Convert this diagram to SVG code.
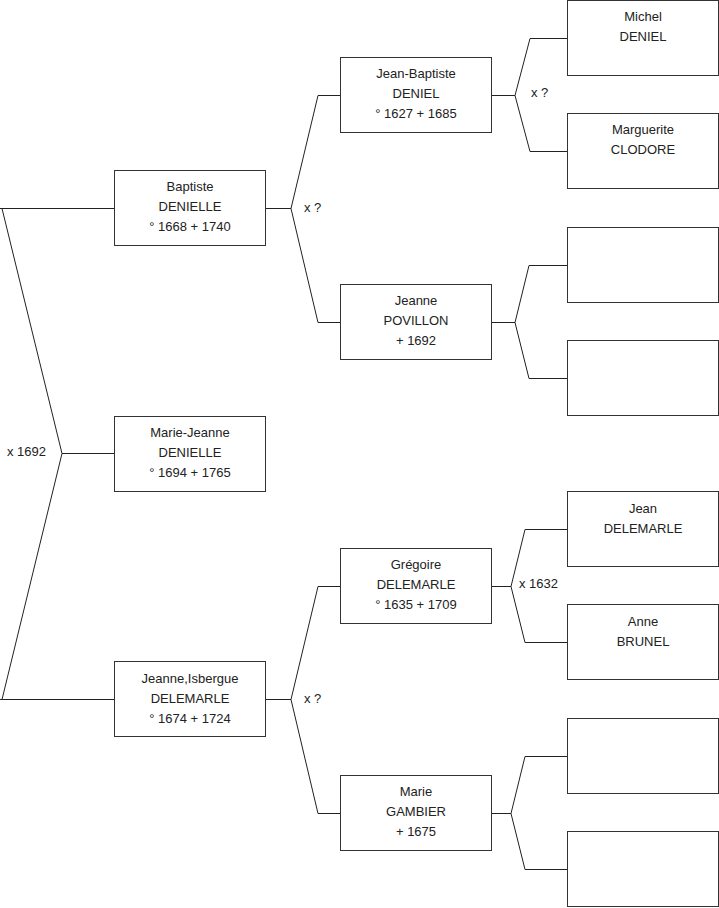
<svg xmlns="http://www.w3.org/2000/svg" width="719" height="908" viewBox="0 0 719 908">
<style>
.box{fill:#fff;stroke:#333;stroke-width:1}
.t{font-family:"Liberation Sans",Arial,sans-serif;font-size:13px;fill:#222;text-anchor:middle}
.lbl{font-family:"Liberation Sans",Arial,sans-serif;font-size:13px;fill:#222}
.c{fill:none;stroke:#222;stroke-width:1}
</style>
<rect width="719" height="908" fill="#fff"/>
<g id="connectors">
<path class="c" d="M0,208.5 H114.5 M2,208.5 L62,453.5 L2,699.5 M0,699.5 H114.5 M62,453.5 H114.5"/>
<path class="c" d="M265.5,208.5 H291 L318,95.5 H340.5 M291,208.5 L318,322.5 H340.5"/>
<path class="c" d="M265.5,699.5 H291 L318,586.5 H340.5 M291,699.5 L318,813.5 H340.5"/>
<path class="c" d="M491.5,95.5 H515 L530,38.5 H567.5 M515,95.5 L530,151.5 H567.5"/>
<path class="c" d="M491.5,322.5 H515 L529,265.5 H567.5 M515,322.5 L529,378.5 H567.5"/>
<path class="c" d="M491.5,586.5 H511 L525,529.5 H567.5 M511,586.5 L525,642.5 H567.5"/>
<path class="c" d="M491.5,813.5 H511 L525,756.5 H567.5 M511,813.5 L525,869.5 H567.5"/>
<text class="lbl" x="7" y="456">x 1692</text>
<text class="lbl" x="304" y="212">x ?</text>
<text class="lbl" x="304" y="703">x ?</text>
<text class="lbl" x="531" y="97">x ?</text>
<text class="lbl" x="519" y="588">x 1632</text>
</g>
<g id="baptiste"><rect class="box" x="114.5" y="170.5" width="151" height="75"/>
<text class="t" x="190" y="191">Baptiste</text><text class="t" x="190" y="211">DENIELLE</text><text class="t" x="190" y="231">° 1668 + 1740</text></g>
<g id="marie-jeanne"><rect class="box" x="114.5" y="416.5" width="151" height="75"/>
<text class="t" x="190" y="437">Marie-Jeanne</text><text class="t" x="190" y="457">DENIELLE</text><text class="t" x="190" y="477">° 1694 + 1765</text></g>
<g id="jeanne-isbergue"><rect class="box" x="114.5" y="661.5" width="151" height="75"/>
<text class="t" x="190" y="683">Jeanne,Isbergue</text><text class="t" x="190" y="703">DELEMARLE</text><text class="t" x="190" y="723">° 1674 + 1724</text></g>
<g id="jean-baptiste"><rect class="box" x="340.5" y="57.5" width="151" height="75"/>
<text class="t" x="416" y="78">Jean-Baptiste</text><text class="t" x="416" y="98">DENIEL</text><text class="t" x="416" y="118">° 1627 + 1685</text></g>
<g id="jeanne-povillon"><rect class="box" x="340.5" y="284.5" width="151" height="75"/>
<text class="t" x="416" y="305">Jeanne</text><text class="t" x="416" y="325">POVILLON</text><text class="t" x="416" y="345">+ 1692</text></g>
<g id="gregoire"><rect class="box" x="340.5" y="548.5" width="151" height="75"/>
<text class="t" x="416" y="569">Grégoire</text><text class="t" x="416" y="589">DELEMARLE</text><text class="t" x="416" y="609">° 1635 + 1709</text></g>
<g id="marie-gambier"><rect class="box" x="340.5" y="775.5" width="151" height="75"/>
<text class="t" x="416" y="796">Marie</text><text class="t" x="416" y="816">GAMBIER</text><text class="t" x="416" y="836">+ 1675</text></g>
<g id="michel"><rect class="box" x="567.5" y="0.5" width="151" height="75"/>
<text class="t" x="643" y="21">Michel</text><text class="t" x="643" y="41">DENIEL</text></g>
<g id="marguerite"><rect class="box" x="567.5" y="113.5" width="151" height="75"/>
<text class="t" x="643" y="134">Marguerite</text><text class="t" x="643" y="154">CLODORE</text></g>
<g id="empty1"><rect class="box" x="567.5" y="227.5" width="151" height="75"/></g>
<g id="empty2"><rect class="box" x="567.5" y="340.5" width="151" height="75"/></g>
<g id="jean"><rect class="box" x="567.5" y="491.5" width="151" height="75"/>
<text class="t" x="643" y="513">Jean</text><text class="t" x="643" y="533">DELEMARLE</text></g>
<g id="anne"><rect class="box" x="567.5" y="604.5" width="151" height="75"/>
<text class="t" x="643" y="626">Anne</text><text class="t" x="643" y="646">BRUNEL</text></g>
<g id="empty3"><rect class="box" x="567.5" y="718.5" width="151" height="75"/></g>
<g id="empty4"><rect class="box" x="567.5" y="831.5" width="151" height="75"/></g>
</svg>
